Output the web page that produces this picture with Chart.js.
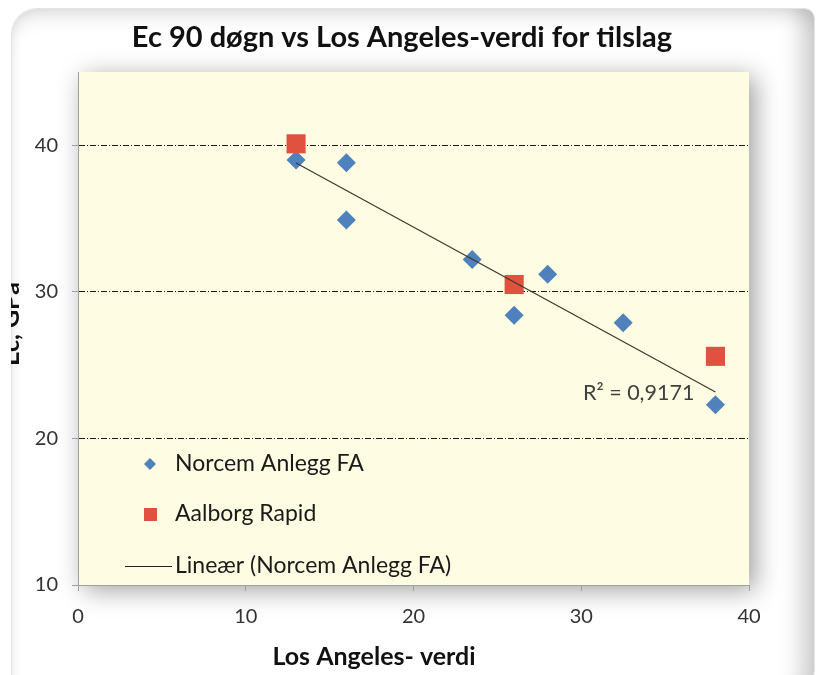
<!DOCTYPE html>
<html>
<head>
<meta charset="utf-8">
<title>Ec 90 døgn vs Los Angeles-verdi</title>
<script src="https://cdn.jsdelivr.net/npm/chart.js@4"></script>
<style>
  html, body { margin: 0; padding: 0; background: #fff; }
  #wrap { position: relative; width: 819px; height: 675px; overflow: hidden; }
  #frame {
    position: absolute; left: 11px; top: 8px; width: 802px; height: 700px;
    border-radius: 26px 10px 40px 20px;
    background: #fff;
    border: 1px solid #e4e4e4;
    box-shadow: inset 0 16px 20px -10px rgba(0,0,0,0.13),
                inset -24px 0 22px -12px rgba(0,0,0,0.2),
                inset 8px 0 12px -8px rgba(0,0,0,0.08);
  }
  #chart { position: absolute; left: 0; top: 0; }
</style>
</head>
<body>
<div id="wrap">
  <div id="frame"></div>
  <canvas id="chart" width="819" height="675"></canvas>
</div>
<script>
// Data
const norcemX = [13, 16, 16, 23.5, 26, 28, 32.5, 38];
const norcemY = [39.0, 38.8, 34.9, 32.2, 28.4, 31.2, 27.9, 22.3];
const aalborgX = [13, 26, 38];
const aalborgY = [40.1, 30.5, 25.6];
const xTicks = [0, 10, 20, 30, 40];
const yTicks = [10, 20, 30, 40];
const chartTitle = 'Ec 90 d\u00F8gn vs Los Angeles-verdi for tilslag';
const xTitle = 'Los Angeles- verdi';
const yTitle = 'Ec, GPa';
const r2Label = 'R\u00B2 = 0,9171';

const FONT = 'Lato, "Open Sans", sans-serif';
const BLUE = '#4f81bd';
const RED = '#e0523f';

// Linear trend for Norcem (least squares)
function linearFit(xs, ys) {
    const n = xs.length;
    const mx = xs.reduce((a, b) => a + b, 0) / n;
    const my = ys.reduce((a, b) => a + b, 0) / n;
    let sxy = 0, sxx = 0;
    xs.forEach((x, i) => { sxy += (x - mx) * (ys[i] - my); sxx += (x - mx) * (x - mx); });
    const slope = sxy / sxx;
    return { slope: slope, intercept: my - slope * mx };
}
const fit = linearFit(norcemX, norcemY);
const trendX = [Math.min(...norcemX), Math.max(...norcemX)];

const toPoints = (xs, ys) => xs.map((x, i) => ({ x: x, y: ys[i] }));

// Plot area fill with soft shadow
const plotBackground = {
    id: 'plotBackground',
    beforeDraw(chart) {
        const { ctx, chartArea: a } = chart;
        ctx.save();
        ctx.shadowColor = 'rgba(0,0,0,0.38)';
        ctx.shadowBlur = 24;
        ctx.shadowOffsetX = 6;
        ctx.shadowOffsetY = 5;
        ctx.fillStyle = '#fefce2';
        ctx.fillRect(a.left, a.top, a.right - a.left, a.bottom - a.top);
        ctx.restore();
    }
};

// Titles, R² label and the legend inside the plot
const extras = {
    id: 'extras',
    afterDraw(chart) {
        const ctx = chart.ctx;
        ctx.save();
        ctx.fillStyle = '#111';
        ctx.textAlign = 'center';
        ctx.textBaseline = 'middle';

        // chart title
        ctx.font = 'bold 29px ' + FONT;
        ctx.fillText(chartTitle, 402, 38);

        // x title
        ctx.font = 'bold 25px ' + FONT;
        ctx.fillText(xTitle, 374, 657);

        // y title, cut by the frame edge
        ctx.save();
        ctx.beginPath();
        ctx.rect(11, 0, 100, 675);
        ctx.clip();
        ctx.translate(19, 324);
        ctx.rotate(-Math.PI / 2);
        ctx.textBaseline = 'alphabetic';
        ctx.fillText(yTitle, 0, 0);
        ctx.restore();

        // R² label
        ctx.font = '21.5px ' + FONT;
        ctx.fillStyle = '#404040';
        ctx.textAlign = 'left';
        ctx.fillText(r2Label, 583, 393);

        // legend
        const items = chart.data.datasets;
        const rows = [464, 514, 566];
        ctx.font = '23px ' + FONT;
        ctx.fillStyle = '#1a1a1a';
        items.forEach((ds, i) => {
            const y = rows[i];
            ctx.save();
            if (ds.pointStyle === 'rectRot') {
                ctx.fillStyle = ds.backgroundColor;
                ctx.beginPath();
                ctx.moveTo(150, y - 6); ctx.lineTo(156, y); ctx.lineTo(150, y + 6); ctx.lineTo(144, y);
                ctx.closePath();
                ctx.fill();
            } else if (ds.pointStyle === 'rect') {
                ctx.fillStyle = ds.backgroundColor;
                ctx.fillRect(144, y - 6, 13, 13);
            } else {
                ctx.strokeStyle = '#222';
                ctx.lineWidth = 1;
                ctx.beginPath();
                ctx.moveTo(125, y + 0.5); ctx.lineTo(172, y + 0.5);
                ctx.stroke();
            }
            ctx.restore();
            ctx.fillText(ds.label, 175, y);
        });
        ctx.restore();
    }
};

new Chart(document.getElementById('chart').getContext('2d'), {
    type: 'scatter',
    data: {
        datasets: [{
            label: 'Norcem Anlegg FA',
            data: toPoints(norcemX, norcemY),
            pointStyle: 'rectRot',
            pointRadius: 9.5,
            backgroundColor: BLUE,
            borderColor: BLUE,
            borderWidth: 0,
            order: 2
        }, {
            label: 'Aalborg Rapid',
            data: toPoints(aalborgX, aalborgY),
            pointStyle: 'rect',
            pointRadius: 13.5,
            backgroundColor: RED,
            borderColor: RED,
            borderWidth: 0,
            order: 1
        }, {
            label: 'Line\u00E6r (Norcem Anlegg FA)',
            type: 'line',
            data: trendX.map(x => ({ x: x, y: fit.intercept + fit.slope * x })),
            borderColor: '#3a3a28',
            borderWidth: 1.2,
            pointRadius: 0,
            fill: false,
            order: 0
        }]
    },
    options: {
        responsive: false,
        animation: false,
        events: [],
        layout: { padding: { left: 0, right: 70, top: 72, bottom: 0 } },
        plugins: {
            legend: { display: false },
            tooltip: { enabled: false },
            title: { display: false }
        },
        scales: {
            x: {
                type: 'linear',
                min: 0,
                max: 40,
                afterBuildTicks: s => { s.ticks = xTicks.map(v => ({ value: v })); },
                afterFit: s => { s.height = 90; },
                grid: { drawOnChartArea: false, drawTicks: true, tickLength: 6, tickColor: '#a0a0a0' },
                border: { color: '#a0a0a0', width: 1 },
                ticks: { color: '#333', padding: 14, font: { family: FONT, size: 20 } }
            },
            y: {
                type: 'linear',
                min: 10,
                max: 45,
                afterBuildTicks: s => { s.ticks = yTicks.map(v => ({ value: v })); },
                afterFit: s => { s.width = 78; },
                grid: {
                    color: c => (c.tick && c.tick.value === 10) ? 'rgba(0,0,0,0)' : '#1a1a1a',
                    lineWidth: 1,
                    tickLength: 6,
                    tickColor: '#a0a0a0',
                    tickBorderDash: []
                },
                border: { color: '#a0a0a0', width: 1, dash: [6, 2, 1, 2] },
                ticks: { color: '#333', padding: 14, font: { family: FONT, size: 20 } }
            }
        }
    },
    plugins: [plotBackground, extras]
});
</script>
</body>
</html>
